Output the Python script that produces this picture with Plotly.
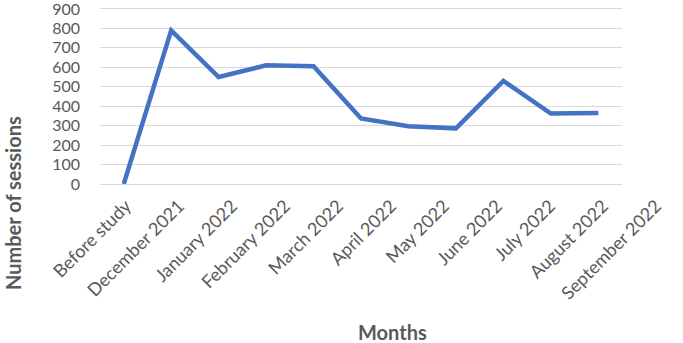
import plotly.graph_objects as go

categories = ["Before study", "December 2021", "January 2022", "February 2022", "March 2022",
              "April 2022", "May 2022", "June 2022", "July 2022", "August 2022", "September 2022"]
sessions = [0, 790, 550, 610, 605, 337, 297, 286, 530, 362, 365]
y_ticks = [0, 100, 200, 300, 400, 500, 600, 700, 800, 900]

W, H = 683, 343
L, R, T, B = 100, 0, 7, 159
PLOT_RIGHT = 622  # right end of the gridlines / line area
n = len(categories)
Y_MAX = 910

fig = go.Figure()
# main line on x/y (category axis spanning the gridline area)
fig.add_trace(go.Scatter(
    x=categories, y=sessions, mode="lines",
    line=dict(color="#4472C4", width=4.5),
    hoverinfo="x+y", cliponaxis=False, xaxis="x", yaxis="y",
))
# invisible companion trace carrying the category labels (spaced a bit wider in the reference)
fig.add_trace(go.Scatter(
    x=categories, y=sessions, mode="markers", marker=dict(opacity=0, size=1),
    hoverinfo="skip", xaxis="x2", yaxis="y2",
))

font_fam = "Lato, 'Open Sans', sans-serif"
dom_main = (PLOT_RIGHT - L) / (W - L - R)
label_step = 53.0
first_tick_px = 126.0
r0 = -(first_tick_px - L) / label_step
r1 = r0 + (W - L - R) / label_step

fig.update_layout(
    width=W, height=H,
    margin=dict(l=L, r=R, t=T, b=B, autoexpand=False),
    paper_bgcolor="white", plot_bgcolor="rgba(0,0,0,0)",
    showlegend=False,
    font=dict(family=font_fam, color="#595959", size=18),
    xaxis=dict(
        type="category", domain=[0, dom_main], showticklabels=False,
        showgrid=False, showline=False, zeroline=False, ticks="",
        range=[-0.5, n - 0.5], automargin=False, anchor="y",
    ),
    xaxis2=dict(
        type="category", domain=[0, 1], anchor="y2",
        tickangle=-45, showgrid=False, showline=False, zeroline=False, ticks="",
        range=[r0, r1], automargin=False,
        tickfont=dict(size=18, color="#595959"), ticklabelstandoff=7,
    ),
    yaxis=dict(
        range=[0, Y_MAX], tickvals=y_ticks, showgrid=True, gridcolor="#D9D9D9",
        gridwidth=1, zeroline=True, zerolinecolor="#D9D9D9", zerolinewidth=1,
        showline=False, ticks="", tickfont=dict(size=16, color="#595959"),
        ticklabelstandoff=19, automargin=False, anchor="x",
        ticklabeloverflow="allow",
    ),
    yaxis2=dict(
        range=[0, Y_MAX], showgrid=False, zeroline=False, showline=False,
        showticklabels=False, ticks="", anchor="x2", automargin=False,
    ),
    annotations=[
        dict(text="<b>Number of sessions</b>", xref="paper", yref="paper",
             x=-(L - 13) / (W - L - R), y=(343 - 203 - B) / (H - T - B),
             textangle=-90, showarrow=False, xanchor="center", yanchor="middle",
             font=dict(size=20, color="#595959", family=font_fam)),
        dict(text="<b>Months</b>", xref="paper", yref="paper",
             x=(392 - L) / (W - L - R), y=-(332 - (H - B)) / (H - T - B),
             showarrow=False, xanchor="center", yanchor="middle",
             font=dict(size=20, color="#595959", family=font_fam)),
    ],
)

fig.write_html(
    "out.html",
    config={"displayModeBar": False},
    post_script="document.body.style.margin='0';document.body.style.overflow='hidden';",
)
